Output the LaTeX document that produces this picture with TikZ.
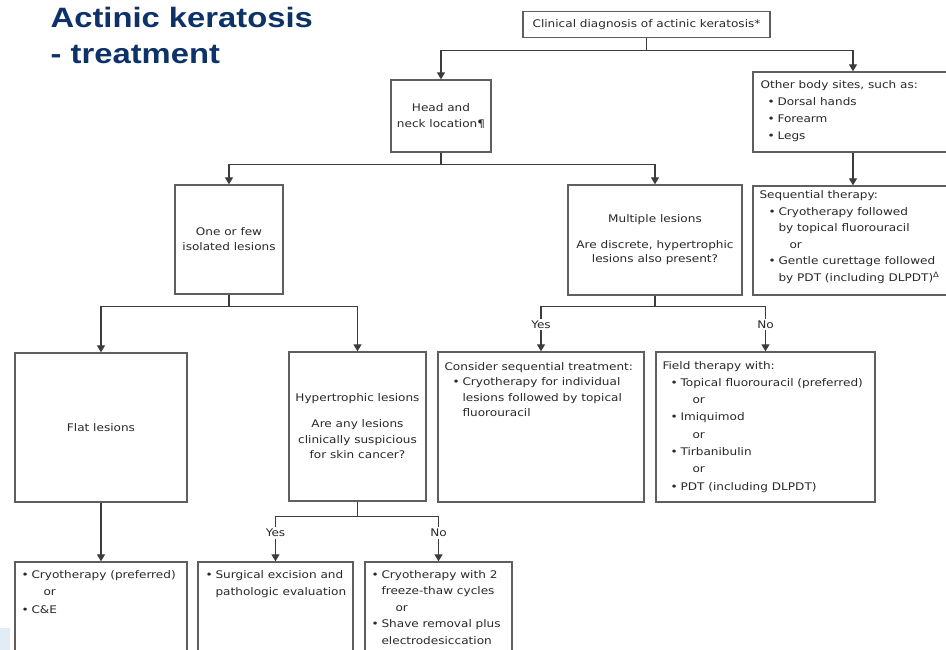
\documentclass[tikz,border=0pt]{standalone}
\usepackage{fontspec}
\usetikzlibrary{arrows.meta}

\newfontfamily\boxfont[FakeStretch=1.15]{DejaVu Sans}
\newfontfamily\titlefont[FakeStretch=1.17]{Liberation Sans}
\definecolor{ttlblue}{RGB}{12,50,104}
\definecolor{boxgray}{RGB}{95,95,95}
\definecolor{linegray}{RGB}{60,60,60}
\definecolor{txtgray}{RGB}{40,40,40}
\definecolor{cornerblue}{RGB}{226,236,246}
\newcommand{\bl}{\makebox[10pt][l]{\textbullet}}

\begin{document}
\begin{tikzpicture}[x=1pt,y=-1pt,->,>={Triangle[length=7pt,width=8pt]},
        box/.style={draw=boxgray,line width=1.3pt,inner sep=0pt},
        txt/.style={font=\boxfont\fontsize{10.5}{17}\selectfont,text=txtgray,inner sep=0pt,align=left},
        ctxt/.style={txt,align=center},
        lskip/.style={font=\boxfont\fontsize{10.5}{#1}\selectfont},
        lbl/.style={txt,fill=white,inner sep=2pt},
        elbow/.style={to path={-- ++(0,#1) -| (\tikztotarget) \tikztonodes}},
        elbow/.default=12,
        every edge/.style={draw=linegray,line width=1.2pt}]

        \useasboundingbox (0,0) rectangle (946,650);
        \clip (0,0) rectangle (946,650);
        \fill[cornerblue] (0,628) rectangle (10,650);

        \node[anchor=north west,inner sep=0pt,align=left,text=ttlblue,
            font=\titlefont\bfseries\fontsize{28}{36.5}\selectfont] (title) at (50.5,7)
            {Actinic keratosis\\- treatment};

        % first row
        \node[box,ctxt,minimum width=247pt,minimum height=26pt] (diag) at (646.5,24.5)
            {Clinical diagnosis of actinic keratosis*};
        \node[box,ctxt,lskip=16,minimum width=100pt,minimum height=72pt] (head) at (441,116)
            {Head and\\neck location¶};
        \node[box,minimum width=200pt,minimum height=80pt] (other) at (853,112) {};
        \node[txt,anchor=north west] (othert) at ([shift={(8,8.5)}]other.north west)
            {Other body sites, such as:\\
            \hspace*{7pt}\bl Dorsal hands\\
            \hspace*{7pt}\bl Forearm\\
            \hspace*{7pt}\bl Legs};
        \node[box,minimum width=200pt,minimum height=109pt] (seq) at (853,240.5) {};
        \node[txt,lskip=16.6,anchor=north west] (seqt) at ([shift={(7,5)}]seq.north west)
            {Sequential therapy:\\
            \hspace*{9pt}\bl Cryotherapy followed\\
            \hspace*{19pt}by topical fluorouracil\\
            \hspace*{30pt}or\\
            \hspace*{9pt}\bl Gentle curettage followed\\
            \hspace*{19pt}by PDT (including DLPDT)\textsuperscript{Δ}};

        % second row
        \node[box,ctxt,lskip=15,minimum width=108pt,minimum height=109pt] (one) at (229,239.5)
            {One or few\\isolated lesions};
        \node[box,ctxt,lskip=14,minimum width=174pt,minimum height=110pt] (multi) at (655,240)
            {Multiple lesions\\[12pt]Are discrete, hypertrophic\\lesions also present?};

        % third row
        \node[box,ctxt,minimum width=172pt,minimum height=149pt] (flat) at (101,427.5)
            {Flat lesions};
        \node[box,ctxt,lskip=15.5,minimum width=137pt,minimum height=149pt] (hyper) at (357.5,426.5)
            {Hypertrophic lesions\\[10.5pt]Are any lesions\\clinically suspicious\\for skin cancer?};
        \node[box,minimum width=206pt,minimum height=150pt] (cons) at (541,427) {};
        \node[txt,lskip=15.5,anchor=north west] (const) at ([shift={(7,10.5)}]cons.north west)
            {Consider sequential treatment:\\
            \hspace*{8pt}\bl Cryotherapy for individual\\
            \hspace*{18pt}lesions followed by topical\\
            \hspace*{18pt}fluorouracil};
        \node[box,minimum width=219pt,minimum height=150pt] (field) at (765.5,427) {};
        \node[txt,lskip=17.3,anchor=north west] (fieldt) at ([shift={(7,9.5)}]field.north west)
            {Field therapy with:\\
            \hspace*{8pt}\bl Topical fluorouracil (preferred)\\
            \hspace*{30pt}or\\
            \hspace*{8pt}\bl Imiquimod\\
            \hspace*{30pt}or\\
            \hspace*{8pt}\bl Tirbanibulin\\
            \hspace*{30pt}or\\
            \hspace*{8pt}\bl PDT (including DLPDT)};

        % bottom row
        \node[box,minimum width=172pt,minimum height=98pt] (cryo) at (101,611) {};
        \node[txt,lskip=17.6,anchor=north west] (cryot) at ([shift={(7,8.5)}]cryo.north west)
            {\bl Cryotherapy (preferred)\\
            \hspace*{22pt}or\\
            \bl C\&E};
        \node[box,minimum width=155pt,minimum height=98pt] (surg) at (275.5,611) {};
        \node[txt,anchor=north west] (surgt) at ([shift={(8,8.5)}]surg.north west)
            {\bl Surgical excision and\\
            \hspace*{10pt}pathologic evaluation};
        \node[box,minimum width=147pt,minimum height=98pt] (cry2) at (438.5,611) {};
        \node[txt,lskip=16.5,anchor=north west] (cry2t) at ([shift={(7,8.5)}]cry2.north west)
            {\bl Cryotherapy with 2\\
            \hspace*{10pt}freeze-thaw cycles\\
            \hspace*{24pt}or\\
            \bl Shave removal plus\\
            \hspace*{10pt}electrodesiccation};

        \path
            (diag.south) edge[elbow=12.5] (head.north)
                         edge[elbow=12.5] (other.north)
            (other.south) edge (seq.north)
            (head.south) edge[elbow] (one.north)
                         edge[elbow] (multi.north)
            (one.south) edge[elbow] (flat.north)
                        edge[elbow] (hyper.north)
            (multi.south) edge[elbow=11] node[lbl,pos=0.7] {Yes} (cons.north)
                          edge[elbow=11] node[lbl,pos=0.7] {No} (field.north)
            (flat.south) edge (cryo.north)
            (hyper.south) edge[elbow=15] node[lbl,pos=0.685] {Yes} (surg.north)
                          edge[elbow=15] node[lbl,pos=0.685] {No} (cry2.north);

\end{tikzpicture}
\end{document}
